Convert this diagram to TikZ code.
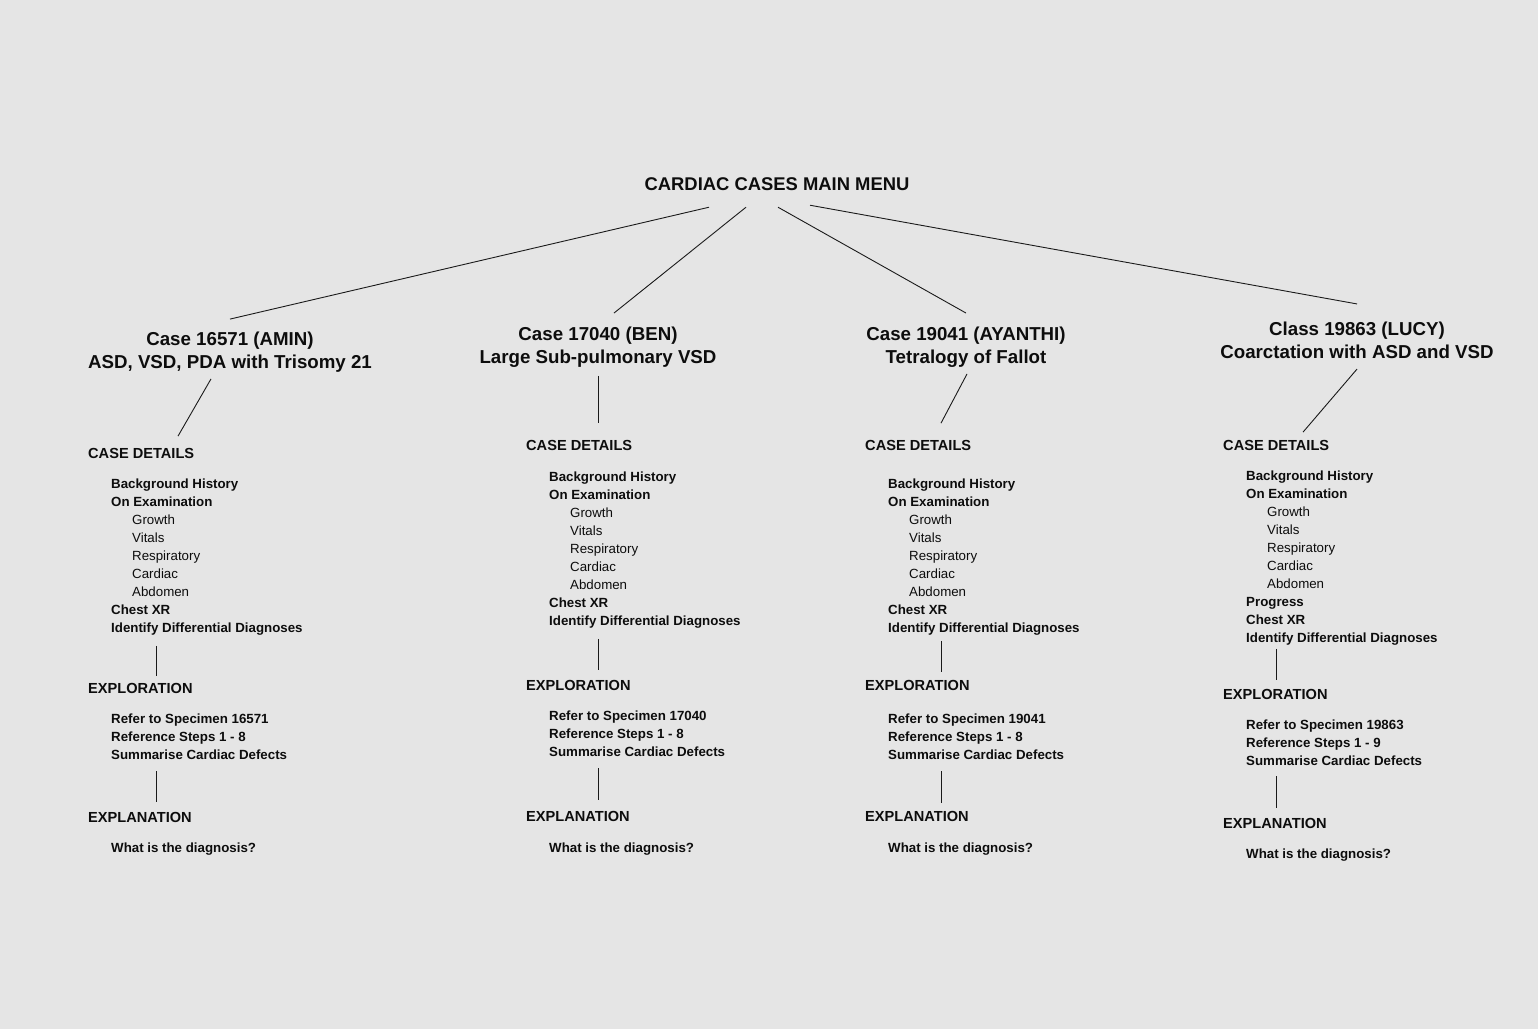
\documentclass[tikz,border=0pt]{standalone}
\usepackage{fontspec}
\setmainfont{Liberation Sans}
\usetikzlibrary{calc}
\definecolor{bgCanvas}{HTML}{E5E5E5}
\definecolor{textMain}{HTML}{0D0D0D}
\definecolor{lineColor}{HTML}{1A1A1A}
\newcommand{\subitm}[1]{\hspace*{21pt}{\mdseries #1}}
\tikzset{
  menutitle/.style={font=\bfseries\fontsize{18.4}{22}\selectfont, text=textMain, inner sep=0pt},
  casetitle/.style={font=\bfseries\fontsize{18.7}{23}\selectfont, text=textMain,
    align=center, inner sep=0pt},
  sechead/.style={font=\bfseries\fontsize{14.6}{18}\selectfont, text=textMain,
    inner sep=0pt, anchor=west},
  itemlist/.style={font=\bfseries\fontsize{13.3}{18}\selectfont, text=textMain,
    align=left, inner sep=0pt, anchor=north west},
  link/.style={draw=lineColor, line width=0.9pt},
}

\begin{document}
\begin{tikzpicture}[x=1pt, y=-1pt]

  % === Canvas ===
  \fill[bgCanvas] (0,0) rectangle (1538,1029);
  \useasboundingbox (0,0) rectangle (1538,1029);

  % === Main menu and cases ===
  \node[menutitle] (menu) at (777,184.5) {CARDIAC CASES MAIN MENU};

  \node[casetitle] (amin) at (230,352.5) {Case 16571 (AMIN)\\ASD, VSD, PDA with Trisomy 21};
  \node[casetitle] (ben) at (598,347.5) {Case 17040 (BEN)\\Large Sub-pulmonary VSD};
  \node[casetitle] (ayanthi) at (966,347.5) {Case 19041 (AYANTHI)\\Tetralogy of Fallot};
  \node[casetitle] (lucy) at (1357,340.5) {Class 19863 (LUCY)\\Coarctation with ASD and VSD};

  \draw[link] ($(menu.south)+(-68,16)$) -- ($(amin.north)+(0,-13)$);
  \draw[link] ($(menu.south)+(-31,16)$) -- ($(ben.north)+(16,-14)$);
  \draw[link] ($(menu.south)+(1,16)$) -- ($(ayanthi.north)+(0,-14)$);
  \draw[link] ($(menu.south)+(33,14)$) -- ($(lucy.north)+(0,-18)$);

  % === Case 16571 ===
  \node[sechead] (amindet) at (88,453.5) {CASE DETAILS};
  \node[itemlist] (aminlist) at (111,479) {Background History\\On Examination\\
    \subitm{Growth}\\\subitm{Vitals}\\\subitm{Respiratory}\\\subitm{Cardiac}\\\subitm{Abdomen}\\
    Chest XR\\Identify Differential Diagnoses};
  \node[sechead] (aminexplor) at (88,688.5) {EXPLORATION};
  \node[itemlist] (aminsteps) at (111,714) {Refer to Specimen 16571\\Reference Steps 1 - 8\\Summarise Cardiac Defects};
  \node[sechead] (aminexplan) at (88,817.5) {EXPLANATION};
  \node[itemlist] (aminq) at (111,843) {What is the diagnosis?};

  \draw[link] ($(amin.south)+(-19,6)$) -- ($(amindet.north west)+(90,-12)$);
  \draw[link] ($(aminlist.south west)+(45,10)$) -- ($(aminexplor.north west)+(68,-7)$);
  \draw[link] ($(aminsteps.south west)+(45,11)$) -- ($(aminexplan.north west)+(68,-10)$);

  % === Case 17040 ===
  \node[sechead] (bendet) at (526,445.5) {CASE DETAILS};
  \node[itemlist] (benlist) at (549,472) {Background History\\On Examination\\
    \subitm{Growth}\\\subitm{Vitals}\\\subitm{Respiratory}\\\subitm{Cardiac}\\\subitm{Abdomen}\\
    Chest XR\\Identify Differential Diagnoses};
  \node[sechead] (benexplor) at (526,685.5) {EXPLORATION};
  \node[itemlist] (bensteps) at (549,711) {Refer to Specimen 17040\\Reference Steps 1 - 8\\Summarise Cardiac Defects};
  \node[sechead] (benexplan) at (526,816.5) {EXPLANATION};
  \node[itemlist] (benq) at (549,843) {What is the diagnosis?};

  \draw[link] ($(ben.south)+(0,8)$) -- ($(bendet.north west)+(72,-17)$);
  \draw[link] ($(benlist.south west)+(49,10)$) -- ($(benexplor.north west)+(72,-10)$);
  \draw[link] ($(bensteps.south west)+(49,11)$) -- ($(benexplan.north west)+(72,-11)$);

  % === Case 19041 ===
  \node[sechead] (ayanthidet) at (865,445.5) {CASE DETAILS};
  \node[itemlist] (ayanthilist) at (888,479) {Background History\\On Examination\\
    \subitm{Growth}\\\subitm{Vitals}\\\subitm{Respiratory}\\\subitm{Cardiac}\\\subitm{Abdomen}\\
    Chest XR\\Identify Differential Diagnoses};
  \node[sechead] (ayanthiexplor) at (865,685.5) {EXPLORATION};
  \node[itemlist] (ayanthisteps) at (888,714) {Refer to Specimen 19041\\Reference Steps 1 - 8\\Summarise Cardiac Defects};
  \node[sechead] (ayanthiexplan) at (865,816.5) {EXPLANATION};
  \node[itemlist] (ayanthiq) at (888,843) {What is the diagnosis?};

  \draw[link] ($(ayanthi.south)+(1,6)$) -- ($(ayanthidet.north west)+(76,-17)$);
  \draw[link] ($(ayanthilist.south west)+(53,5)$) -- ($(ayanthiexplor.north west)+(76,-8)$);
  \draw[link] ($(ayanthisteps.south west)+(53,11)$) -- ($(ayanthiexplan.north west)+(76,-8)$);

  % === Class 19863 ===
  \node[sechead] (lucydet) at (1223,445.5) {CASE DETAILS};
  \node[itemlist] (lucylist) at (1246,471) {Background History\\On Examination\\
    \subitm{Growth}\\\subitm{Vitals}\\\subitm{Respiratory}\\\subitm{Cardiac}\\\subitm{Abdomen}\\
    Progress\\Chest XR\\Identify Differential Diagnoses};
  \node[sechead] (lucyexplor) at (1223,694.5) {EXPLORATION};
  \node[itemlist] (lucysteps) at (1246,720) {Refer to Specimen 19863\\Reference Steps 1 - 9\\Summarise Cardiac Defects};
  \node[sechead] (lucyexplan) at (1223,823.5) {EXPLANATION};
  \node[itemlist] (lucyq) at (1246,849) {What is the diagnosis?};

  \draw[link] ($(lucy.south)+(0,10)$) -- ($(lucydet.north west)+(80,-8)$);
  \draw[link] ($(lucylist.south west)+(30,3)$) -- ($(lucyexplor.north west)+(53,-9)$);
  \draw[link] ($(lucysteps.south west)+(30,10)$) -- ($(lucyexplan.north west)+(53,-10)$);

\end{tikzpicture}
\end{document}
